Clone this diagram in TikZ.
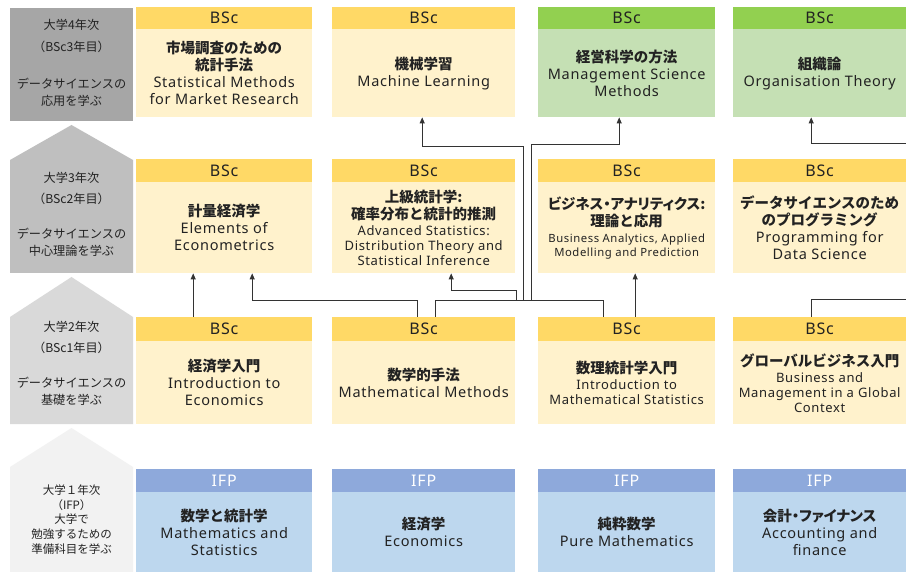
\documentclass[tikz,border=0pt]{standalone}
\usepackage{fontspec}
\setmainfont{Noto Sans}[LetterSpace=5]
\newfontfamily\jp{Noto Sans CJK JP}
\newfontfamily\jpp{Noto Sans CJK JP}[RawFeature=+palt]
\usetikzlibrary{arrows.meta,calc}
\definecolor{hY}{HTML}{FFD966}
\definecolor{bY}{HTML}{FFF2CC}
\definecolor{hG}{HTML}{92D050}
\definecolor{bG}{HTML}{C5E0B4}
\definecolor{hB}{HTML}{8EA9DB}
\definecolor{bB}{HTML}{BDD7EE}
\definecolor{g4}{HTML}{A6A6A6}
\definecolor{g3}{HTML}{BFBFBF}
\definecolor{g2}{HTML}{D9D9D9}
\definecolor{g1}{HTML}{F2F2F2}
\definecolor{txt}{HTML}{222222}
\definecolor{lc}{HTML}{333333}
\newcommand\J[1]{{\jp\bfseries #1}}
\newcommand\JP[1]{{\jpp\bfseries #1}}
\newcommand\Sm[1]{{\fontsize{13}{15}\selectfont #1}}
\newcommand\Tn[1]{{\fontsize{11.3}{14}\selectfont #1}}
\begin{document}
\begin{tikzpicture}[x=1pt,y=-1pt,
  hdr/.style={anchor=north west, inner sep=0pt, font=\fontsize{16}{18}\selectfont, text=txt},
  body/.style={anchor=north west, inner sep=0pt, align=center, text=txt, font=\fontsize{14.5}{17}\selectfont},
  c1/.style={minimum width=176},
  c2/.style={minimum width=183},
  c3/.style={minimum width=177},
  c4/.style={minimum width=173},
  conn/.style={draw=lc, line width=0.9pt},
  arr/.style={conn, -{Triangle[length=6pt,width=5pt]}},
  yl/.style={align=center, text=txt, inner sep=0pt}
]
\useasboundingbox (0,0) rectangle (906,572);
\fill[white] (0,0) rectangle (906,572);
% left column
\fill[g4] (10,8) rectangle (133,121);
\fill[g3] (71.5,125) -- (133,160) -- (133,273) -- (10,273) -- (10,160) -- cycle;
\fill[g2] (71.5,277) -- (133,317) -- (133,424) -- (10,424) -- (10,317) -- cycle;
\fill[g1] (71.5,428) -- (133,467) -- (133,572) -- (10,572) -- (10,467) -- cycle;
\begin{scope}[every node/.style={yl}]
\node[font=\jp\fontsize{12.2}{21.5}\selectfont] (y4a) at (71.5,36) {大学4年次\\（BSc3年目）};
\node[font=\jp\fontsize{12.2}{17}\selectfont] (y4b) at (71.5,92.5) {データサイエンスの\\応用を学ぶ};
\node[font=\jp\fontsize{12.2}{21.5}\selectfont] (y3a) at (71.5,188.5) {大学3年次\\（BSc2年目）};
\node[font=\jp\fontsize{12.2}{17}\selectfont] (y3b) at (71.5,242.5) {データサイエンスの\\中心理論を学ぶ};
\node[font=\jp\fontsize{12.2}{21.5}\selectfont] (y2a) at (71.5,337.5) {大学2年次\\（BSc1年目）};
\node[font=\jp\fontsize{12.2}{17}\selectfont] (y2b) at (71.5,391.5) {データサイエンスの\\基礎を学ぶ};
\node[font=\jp\fontsize{11.5}{14.75}\selectfont] (y1) at (71.5,519.5) {大学１年次\\（IFP）\\大学で\\勉強するための\\準備科目を学ぶ};
\end{scope}
% row 4
\node[hdr,c1,fill=hY,minimum height=22] (sm-h) at (136,7) {BSc};
\node[body,c1,fill=bY,minimum height=88] (sm) at (136,29) {\J{市場調査のための}\\\J{統計手法}\\Statistical Methods\\for Market Research};
\node[hdr,c2,fill=hY,minimum height=22] (ml-h) at (332,7) {BSc};
\node[body,c2,fill=bY,minimum height=88] (ml) at (332,29) {\J{機械学習}\\Machine Learning};
\node[hdr,c3,fill=hG,minimum height=22] (ms-h) at (538,7) {BSc};
\node[body,c3,fill=bG,minimum height=88] (ms) at (538,29) {\J{経営科学の方法}\\Management Science\\Methods};
\node[hdr,c4,fill=hG,minimum height=22] (ot-h) at (733,7) {BSc};
\node[body,c4,fill=bG,minimum height=88] (ot) at (733,29) {\J{組織論}\\Organisation Theory};
% row 3
\node[hdr,c1,fill=hY,minimum height=23] (ee-h) at (136,159) {BSc};
\node[body,c1,fill=bY,minimum height=91] (ee) at (136,182) {\J{計量経済学}\\Elements of\\Econometrics};
\node[hdr,c2,fill=hY,minimum height=23] (as-h) at (332,159) {BSc};
\node[body,c2,fill=bY,minimum height=91] (as) at (332,182) {\J{上級統計学:}\\\J{確率分布と統計的推測}\\[-1pt]\Sm{Advanced Statistics:}\\[-2pt]\Sm{Distribution Theory and}\\[-2pt]\Sm{Statistical Inference}};
\node[hdr,c3,fill=hY,minimum height=23] (ba-h) at (538,159) {BSc};
\node[body,c3,fill=bY,minimum height=91] (ba) at (538,182) {\JP{ビジネス・アナリティクス:}\\\J{理論と応用}\\[-1pt]\Tn{Business Analytics, Applied}\\[-3pt]\Tn{Modelling and Prediction}};
\node[hdr,c4,fill=hY,minimum height=23] (pd-h) at (733,159) {BSc};
\node[body,c4,fill=bY,minimum height=91] (pd) at (733,182) {\J{データサイエンスのため}\\\J{のプログラミング}\\Programming for\\Data Science};
% row 2
\node[hdr,c1,fill=hY,minimum height=24] (ie-h) at (136,317) {BSc};
\node[body,c1,fill=bY,minimum height=83] (ie) at (136,341) {\J{経済学入門}\\Introduction to\\Economics};
\node[hdr,c2,fill=hY,minimum height=24] (mm-h) at (332,317) {BSc};
\node[body,c2,fill=bY,minimum height=83] (mm) at (332,341) {\J{数学的手法}\\Mathematical Methods};
\node[hdr,c3,fill=hY,minimum height=24] (ims-h) at (538,317) {BSc};
\node[body,c3,fill=bY,minimum height=83] (ims) at (538,341) {\J{数理統計学入門}\\[-1pt]\Sm{Introduction to}\\[-2pt]\Sm{Mathematical Statistics}};
\node[hdr,c4,fill=hY,minimum height=24] (gb-h) at (733,317) {BSc};
\node[body,c4,fill=bY,minimum height=83] (gb) at (733,341) {\J{グローバルビジネス入門}\\[-1pt]\Sm{Business and}\\[-2pt]\Sm{Management in a Global}\\[-2pt]\Sm{Context}};
% row 1
\node[hdr,c1,fill=hB,text=white,minimum height=23] (mst-h) at (136,469) {IFP};
\node[body,c1,fill=bB,minimum height=80] (mst) at (136,492) {\J{数学と統計学}\\Mathematics and\\Statistics};
\node[hdr,c2,fill=hB,text=white,minimum height=23] (eco-h) at (332,469) {IFP};
\node[body,c2,fill=bB,minimum height=80] (eco) at (332,492) {\J{経済学}\\Economics};
\node[hdr,c3,fill=hB,text=white,minimum height=23] (pm-h) at (538,469) {IFP};
\node[body,c3,fill=bB,minimum height=80] (pm) at (538,492) {\J{純粋数学}\\Pure Mathematics};
\node[hdr,c4,fill=hB,text=white,minimum height=23] (af-h) at (733,469) {IFP};
\node[body,c4,fill=bB,minimum height=80] (af) at (733,492) {\JP{会計・ファイナンス}\\Accounting and\\finance};
% connectors
\coordinate (bus) at (0,300);
\coordinate (bus2) at (0,290);
\coordinate (t1) at (0,146);
\coordinate (t2) at (0,144);
\coordinate (t3) at (0,143);
\coordinate (t4) at (0,299);
\draw[arr] ([xshift=-31]ie-h.north) -- ([xshift=-31]ee.south);
\coordinate (b1) at ([xshift=-6.5]mm-h.north);
\coordinate (b2) at ([xshift=28]ee.south);
\draw[arr] (b1) |- (b2 |- bus) -- (b2);
\coordinate (c1) at ([xshift=11.5]mm-h.north);
\coordinate (c2) at ([xshift=-23.5]ims-h.north);
\draw[conn] (c1) |- (c2 |- bus) -- (c2);
\coordinate (d1) at (516,300);
\coordinate (d2) at ([xshift=27.5]as.south);
\draw[arr] (d1) |- (d2 |- bus2) -- (d2);
\coordinate (e1) at (523,300);
\coordinate (e2) at ([xshift=-1.5]ml.south);
\draw[arr] (e1) |- (e2 |- t1) -- (e2);
\coordinate (f1) at (531,300);
\coordinate (f2) at ([xshift=-7.5]ms.south);
\draw[arr] (f1) |- (f2 |- t2) -- (f2);
\draw[arr] ([xshift=8.5]ims-h.north) -- ([xshift=8.5]ba.south);
\coordinate (h1) at (906,143);
\coordinate (h2) at ([xshift=-8.5]ot.south);
\draw[arr] (h1) -| (h2);
\coordinate (i1) at ([xshift=-8.5]gb-h.north);
\coordinate (i2) at (906,299);
\draw[conn] (i1) |- (i2);
\end{tikzpicture}
\end{document}
